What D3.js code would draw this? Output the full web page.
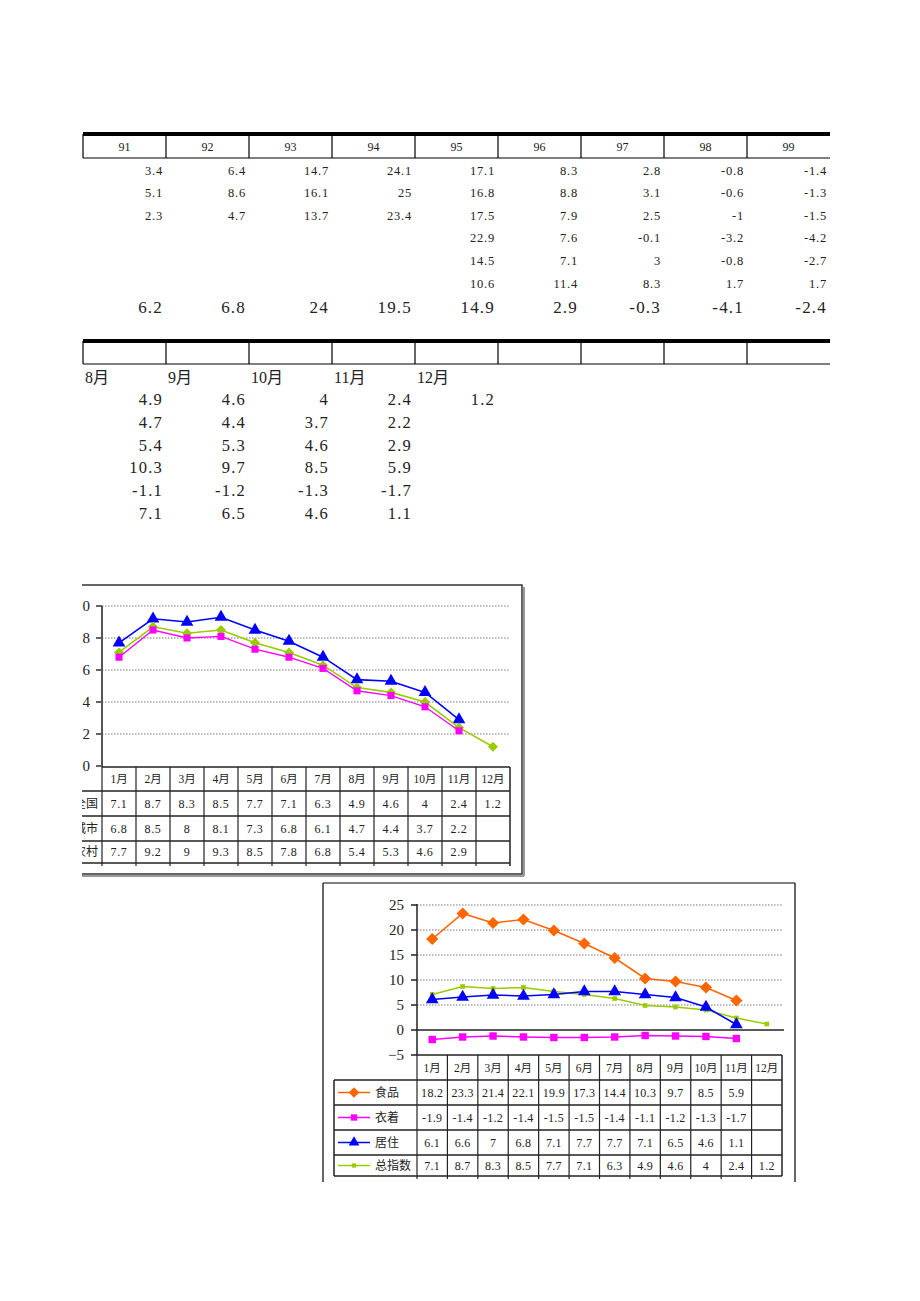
<!DOCTYPE html>
<html><head><meta charset="utf-8">
<script src="https://cdn.jsdelivr.net/npm/d3@7"></script>
<style>
html,body{margin:0;padding:0;background:#fff;}
text{font-family:"Liberation Serif","DejaVu Serif","Noto Sans CJK SC",serif;fill:#222;}
</style></head>
<body>
<svg id="c" width="920" height="1301"></svg>
<script>
// ---------- DATA ----------
const years = ["91","92","93","94","95","96","97","98","99"];
const topRow1 = [3.4,6.4,14.7,24.1,17.1,8.3,2.8,-0.8,-1.4];
const topRow2 = [5.1,8.6,16.1,25,16.8,8.8,3.1,-0.6,-1.3];
const topRow3 = [2.3,4.7,13.7,23.4,17.5,7.9,2.5,-1,-1.5];
const topRow4 = [null,null,null,null,22.9,7.6,-0.1,-3.2,-4.2];
const topRow5 = [null,null,null,null,14.5,7.1,3,-0.8,-2.7];
const topRow6 = [null,null,null,null,10.6,11.4,8.3,1.7,1.7];
const topRow7 = [6.2,6.8,24,19.5,14.9,2.9,-0.3,-4.1,-2.4];

const midMonths = ["8月","9月","10月","11月","12月"];
const midRow1 = [4.9,4.6,4,2.4,1.2];
const midRow2 = [4.7,4.4,3.7,2.2];
const midRow3 = [5.4,5.3,4.6,2.9];
const midRow4 = [10.3,9.7,8.5,5.9];
const midRow5 = [-1.1,-1.2,-1.3,-1.7];
const midRow6 = [7.1,6.5,4.6,1.1];

const months = ["1月","2月","3月","4月","5月","6月","7月","8月","9月","10月","11月","12月"];
const national = [7.1,8.7,8.3,8.5,7.7,7.1,6.3,4.9,4.6,4,2.4,1.2];
const urban = [6.8,8.5,8,8.1,7.3,6.8,6.1,4.7,4.4,3.7,2.2];
const rural = [7.7,9.2,9,9.3,8.5,7.8,6.8,5.4,5.3,4.6,2.9];
const c1Ticks = [0,2,4,6,8,10];

const food = [18.2,23.3,21.4,22.1,19.9,17.3,14.4,10.3,9.7,8.5,5.9];
const clothing = [-1.9,-1.4,-1.2,-1.4,-1.5,-1.5,-1.4,-1.1,-1.2,-1.3,-1.7];
const housing = [6.1,6.6,7,6.8,7.1,7.7,7.7,7.1,6.5,4.6,1.1];
const totalIdx = national;
const c2Ticks = [-5,0,5,10,15,20,25];

// ---------- HELPERS ----------
const svg = d3.select("#c");
svg.append("defs").append("clipPath").attr("id","pg")
  .append("rect").attr("x",82).attr("y",0).attr("width",838).attr("height",1301);
const root = svg.append("g").attr("clip-path","url(#pg)");
const fmt = v => String(v);
function line(g,x1,y1,x2,y2,w,c,dash){
  const l=g.append("line").attr("x1",x1).attr("y1",y1).attr("x2",x2).attr("y2",y2)
   .attr("stroke",c||"#000").attr("stroke-width",w||1);
  if(dash) l.attr("stroke-dasharray",dash);
  return l;
}
function txt(g,x,y,s,size,anchor){
  return g.append("text").attr("x",x).attr("y",y).attr("font-size",size)
    .attr("text-anchor",anchor||"start").attr("dominant-baseline","central").text(s);
}
// diamond = square rotated 45deg
const DIAMOND = { draw(ctx,size){ const r=Math.sqrt(size/2);
  ctx.moveTo(0,-r); ctx.lineTo(r,0); ctx.lineTo(0,r); ctx.lineTo(-r,0); ctx.closePath(); } };

// ---------- TOP TABLE ----------
const colX = d3.scaleBand().domain(years).range([83,830]);
const gT = root.append("g");
line(gT,83,134,830,134,4);
line(gT,83,158,830,158,1.2);
years.forEach((y,i)=>{ line(gT,colX(y),134,colX(y),158,1.2); });
years.forEach(y=> txt(gT,colX(y)+colX.bandwidth()/2,147,y,12,"middle"));
const topRows=[topRow1,topRow2,topRow3,topRow4,topRow5,topRow6];
const topY=[171,193,216,238,261,284];
topRows.forEach((r,ri)=>r.forEach((v,i)=>{
  if(v===null) return;
  txt(gT,colX(years[i])+colX.bandwidth()-3,topY[ri],fmt(v),12.5,"end")
    .attr("fill","#333").attr("letter-spacing","0.8");
}));
topRow7.forEach((v,i)=> txt(gT,colX(years[i])+colX.bandwidth()-3,307,fmt(v),17,"end").attr("letter-spacing","1.2"));

// ---------- MIDDLE TABLE ----------
const gM = root.append("g");
line(gM,83,341,830,341,4);
line(gM,83,364,830,364,1.2);
years.forEach(y=> line(gM,colX(y),341,colX(y),364,1.2));
midMonths.forEach((m,i)=> txt(gM,colX(years[i])+2,377,m,16,"start"));
const midRows=[midRow1,midRow2,midRow3,midRow4,midRow5,midRow6];
const midY=[399,422,445,467,490,513];
midRows.forEach((r,ri)=>r.forEach((v,i)=>{
  txt(gM,colX(years[i])+colX.bandwidth()-3,midY[ri],fmt(v),16.5,"end").attr("letter-spacing","1.2");
}));

// ---------- CHART 1 ----------
const g1 = root.append("g");
g1.append("rect").attr("x",60).attr("y",585).attr("width",462).attr("height",289)
  .attr("fill","#fff").attr("stroke","#000").attr("stroke-width",1.2);
line(g1,62,876,524,876,2,"#999");
line(g1,524,587,524,876,2,"#999");
const x1 = d3.scaleBand().domain(months).range([102,510]);
const y1 = d3.scaleLinear().domain([0,10]).range([766,606]);
c1Ticks.forEach(t=>{
  if(t>0) line(g1,102,y1(t),510,y1(t),0.8,"#555","1.5,1.5");
  line(g1,96,y1(t),102,y1(t),1.5,"#333");
  txt(g1,90,y1(t),String(t),15,"end");
});
line(g1,102,606,102,767,2,"#555");
const cx1 = m => x1(m)+x1.bandwidth()/2;
const drawSeries=(g,vals,xs,ys,color,shape,size,w)=>{
  const gen=d3.line().x((d,i)=>xs(months[i])).y(d=>ys(d));
  g.append("path").attr("d",gen(vals)).attr("fill","none").attr("stroke",color).attr("stroke-width",w);
  const sym=d3.symbol().type(shape).size(size);
  vals.forEach((v,i)=> g.append("path").attr("d",sym())
    .attr("transform",`translate(${xs(months[i])},${ys(v)})`).attr("fill",color));
};
drawSeries(g1,rural,cx1,y1,"#0000FF",d3.symbolTriangle,70,1.6);
drawSeries(g1,national,cx1,y1,"#99CC00",DIAMOND,50,1.6);
drawSeries(g1,urban,cx1,y1,"#FF00FF",d3.symbolSquare,50,1.4);
// chart 1 data table
const t1Rows=[767,791,816,841,863];
line(g1,102,767,510,767,1.5,"#222");
t1Rows.slice(1).forEach(yy=> line(g1,60,yy,510,yy,1.5,"#222"));
months.forEach(m=> line(g1,x1(m),767,x1(m),866,1.2,"#222"));
line(g1,510,767,510,866,1.5,"#222");
months.forEach(m=> txt(g1,cx1(m),779,m,11.5,"middle"));
const t1Labels=["全国","城市","农村"];
[national,urban,rural].forEach((r,ri)=>{
  const yy=(t1Rows[ri+1]+t1Rows[ri+2])/2;
  txt(g1,98,yy,t1Labels[ri],12,"end");
  r.forEach((v,i)=> txt(g1,cx1(months[i]),yy,fmt(v),12,"middle").attr("letter-spacing","0.6"));
});

// ---------- CHART 2 ----------
const g2 = root.append("g");
line(g2,323,883,795,883,1.2);
line(g2,323,883,323,1182,1.2);
line(g2,795,883,795,1182,1.2);
const x2 = d3.scaleBand().domain(months).range([417,782]);
const y2 = d3.scaleLinear().domain([-5,25]).range([1055,905]);
const cx2 = m => x2(m)+x2.bandwidth()/2;
c2Ticks.forEach(t=>{
  if(t>0) line(g2,417,y2(t),782,y2(t),0.8,"#555","1.5,1.5");
  line(g2,411,y2(t),417,y2(t),1.5,"#222");
  txt(g2,404,y2(t),t<0?"−"+Math.abs(t):String(t),15,"end");
});
line(g2,417,y2(0),784,y2(0),1.5,"#222");
line(g2,417,904,417,1055,1.5,"#222");
drawSeries(g2,food,cx2,y2,"#FF6600",DIAMOND,75,1.6);
drawSeries(g2,totalIdx,cx2,y2,"#99CC00",d3.symbolSquare,22,1.6);
drawSeries(g2,housing,cx2,y2,"#0000FF",d3.symbolTriangle,70,1.6);
drawSeries(g2,clothing,cx2,y2,"#FF00FF",d3.symbolSquare,55,1.4);
// chart 2 data table
const t2Rows=[1055,1080,1105,1130,1155,1176];
line(g2,417,1055,782,1055,1.5,"#222");
t2Rows.slice(1).forEach(yy=> line(g2,334,yy,782,yy,1.5,"#222"));
line(g2,334,1080,334,1176,1.5,"#222");
months.forEach(m=> line(g2,x2(m),1055,x2(m),1179,1.2,"#222"));
line(g2,782,1055,782,1176,1.5,"#222");
months.forEach(m=> txt(g2,cx2(m),1068,m,11.5,"middle"));
const t2Labels=["食品","衣着","居住","总指数"];
const t2Colors=["#FF6600","#FF00FF","#0000FF","#99CC00"];
const t2Shapes=[DIAMOND,d3.symbolSquare,d3.symbolTriangle,d3.symbolSquare];
const t2Sizes=[55,40,50,18];
[food,clothing,housing,totalIdx].forEach((r,ri)=>{
  const yy=(t2Rows[ri+1]+t2Rows[ri+2])/2;
  line(g2,338,yy,370,yy,1.5,t2Colors[ri]);
  g2.append("path").attr("d",d3.symbol().type(t2Shapes[ri]).size(t2Sizes[ri])())
    .attr("transform",`translate(354,${yy})`).attr("fill",t2Colors[ri]);
  txt(g2,375,yy,t2Labels[ri],12,"start");
  r.forEach((v,i)=> txt(g2,cx2(months[i]),yy,fmt(v),12,"middle").attr("letter-spacing","0.3"));
});
</script>
</body></html>
